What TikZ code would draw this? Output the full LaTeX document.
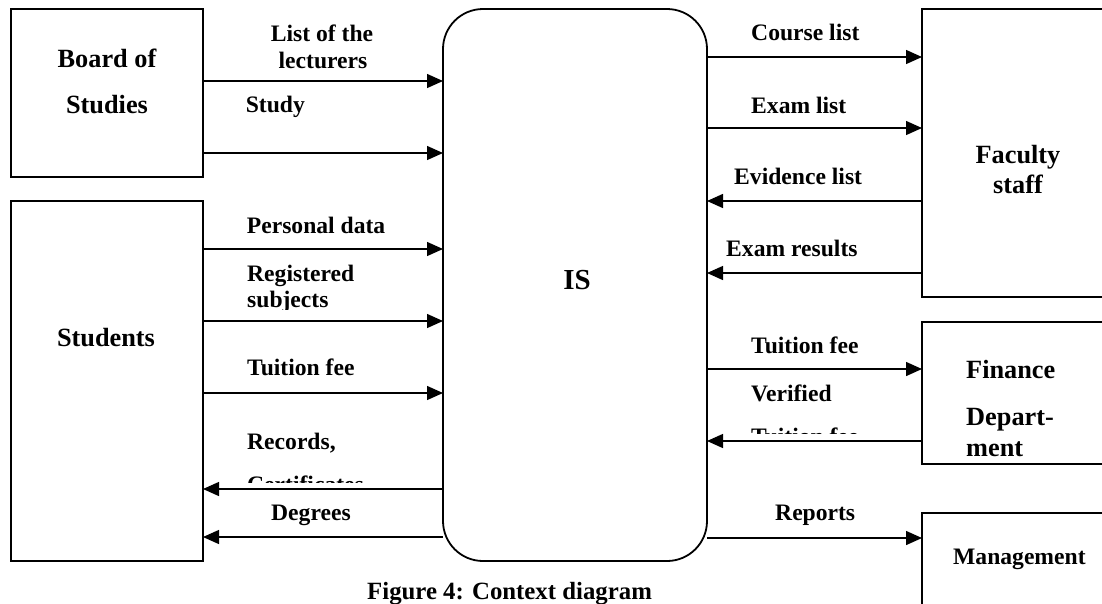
\documentclass[tikz,border=0pt]{standalone}
\usepackage{fontspec}
\setmainfont{Liberation Serif}
\usetikzlibrary{arrows.meta}
\begin{document}
\begin{tikzpicture}[x=1pt,y=-1pt]
\tikzset{
  entity/.style={draw, line width=1.8pt, rectangle, inner sep=0pt, outer sep=0pt, anchor=north west},
  process/.style={draw, line width=1.8pt, rounded corners=40pt, inner sep=0pt, outer sep=0pt, anchor=north west},
  flow/.style={line width=1.4pt, -{Triangle[length=16pt,width=14pt]}},
  boxtext/.style={font=\fontsize{26.3}{30}\selectfont\bfseries, inner sep=0pt, anchor=base},
  boxtextl/.style={boxtext, anchor=base west},
  flowtext/.style={font=\fontsize{23.6}{28}\selectfont\bfseries, inner sep=0pt, anchor=base west},
  flowtextc/.style={flowtext, anchor=base},
}
\useasboundingbox (0,0) rectangle (1102,603);
\clip (0,0) rectangle (1102,603);

% external entities and the system process
\node[entity, minimum width=192pt, minimum height=168pt] (board) at (11,9) {};
\node[entity, minimum width=192pt, minimum height=360pt] (students) at (11,201) {};
\node[process, minimum width=264pt, minimum height=552pt] (is) at (443,9) {};
\node[entity, minimum width=200pt, minimum height=288pt] (faculty) at (922,9) {};
\node[entity, minimum width=200pt, minimum height=142pt] (finance) at (922,322) {};
\node[entity, minimum width=200pt, minimum height=120pt] (mgmt) at (922,513) {};

% box captions
\node[boxtext] (boardA) at (107,67) {Board of};
\node[boxtext] (boardB) at (107,113) {Studies};
\node[boxtext] (studentsT) at (106,346) {Students};
\node[boxtext, font=\fontsize{29}{32}\selectfont\bfseries] (isT) at (577,289) {IS};
\node[boxtext] (facultyA) at (1018,163) {Faculty};
\node[boxtext] (facultyB) at (1018,193) {staff};
\node[boxtextl] (financeA) at (966,378) {Finance};
\node[boxtextl] (financeB) at (966,425) {Depart-};
\node[boxtextl] (financeC) at (966,456) {ment};
\node[flowtext] (mgmtT) at (953,564) {Management};

% data flows, left side
\draw[flow] (board.east |- 0,81) -- (is.west |- 0,81);
\draw[flow] (board.east |- 0,153) -- (is.west |- 0,153);
\draw[flow] (students.east |- 0,249) -- (is.west |- 0,249);
\draw[flow] (students.east |- 0,321) -- (is.west |- 0,321);
\draw[flow] (students.east |- 0,393) -- (is.west |- 0,393);
\draw[flow] (is.west |- 0,489) -- (students.east |- 0,489);
\draw[flow] (is.west |- 0,537) -- (students.east |- 0,537);

% data flows, right side
\draw[flow] (is.east |- 0,57) -- (faculty.west |- 0,57);
\draw[flow] (is.east |- 0,128) -- (faculty.west |- 0,128);
\draw[flow] (faculty.west |- 0,201) -- (is.east |- 0,201);
\draw[flow] (faculty.west |- 0,273) -- (is.east |- 0,273);
\draw[flow] (is.east |- 0,369) -- (finance.west |- 0,369);
\draw[flow] (finance.west |- 0,441) -- (is.east |- 0,441);
\draw[flow] (is.east |- 0,538) -- (mgmt.west |- 0,538);

% flow labels, left side
\node[flowtextc] (l1a) at (322,41) {List of the};
\node[flowtextc] (l1b) at (323,68) {lecturers};
\node[flowtext] (l2) at (245.6,112) {Study};
\node[flowtext] (l3) at (246.7,233) {Personal data};
\node[flowtext] (l4a) at (247,281) {Registered};
\begin{scope}
  \clip (240,285) rectangle (440,309.5);
  \node[flowtext] (l4b) at (247,307) {subjects};
\end{scope}
\node[flowtext] (l5) at (247,375) {Tuition fee};
\node[flowtext] (l6a) at (247,449) {Records,};
\begin{scope}
  \clip (240,455) rectangle (440,482);
  \node[flowtext] (l6b) at (247,492) {Certificates};
\end{scope}
\node[flowtext] (l7) at (271,520) {Degrees};

% flow labels, right side
\node[flowtext] (r1) at (751,40) {Course list};
\node[flowtext] (r2) at (751,113) {Exam list};
\node[flowtext] (r3) at (734,184) {Evidence list};
\node[flowtext] (r4) at (726,256) {Exam results};
\node[flowtext] (r5) at (751,353) {Tuition fee};
\node[flowtext] (r6a) at (751,401) {Verified};
\begin{scope}
  \clip (740,408) rectangle (915,433);
  \node[flowtext] (r6b) at (751,444) {Tuition fee};
\end{scope}
\node[flowtext] (r7) at (775,520) {Reports};

% figure caption
\node[boxtextl, font=\fontsize{24.8}{28}\selectfont\bfseries] (caption) at (367,599) {Figure 4: Context diagram};
\end{tikzpicture}
\end{document}
